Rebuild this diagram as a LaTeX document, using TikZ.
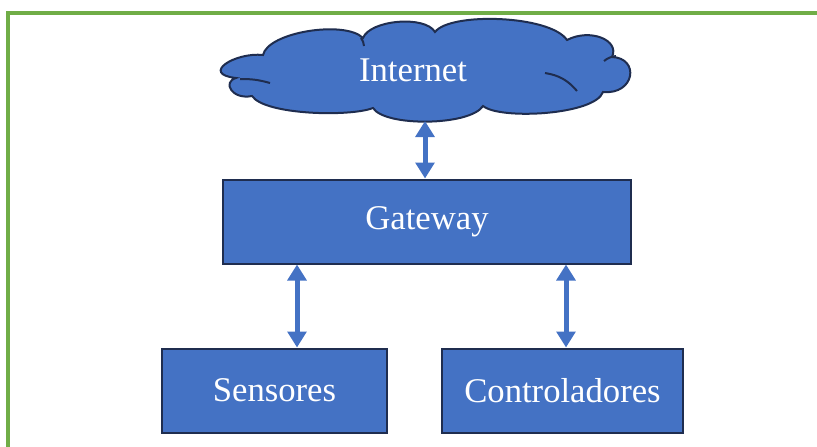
\documentclass[tikz,border=0pt]{standalone}
\usepackage{fontspec}
\setmainfont{Liberation Serif}
\usetikzlibrary{arrows.meta}
\definecolor{boxblue}{HTML}{4472C4}
\definecolor{boxedge}{HTML}{1F2D4F}
\definecolor{framegreen}{HTML}{70AD47}
\tikzset{
  blockbox/.style={draw=boxedge,fill=boxblue,line width=1.5pt,inner sep=0pt,
    text=white,font=\fontsize{26}{30}\selectfont,minimum height=63pt},
  cloudline/.style={draw=boxedge,line width=1.5pt},
  conn/.style={draw=boxblue,line width=3.75pt,
    {Triangle[width=14pt,length=12pt]}-{Triangle[width=14pt,length=12pt]}}
}
\begin{document}
\begin{tikzpicture}[x=0.75pt,y=-0.75pt]
                    \useasboundingbox (0,0) rectangle (817,446);
                    \clip (0,0) rectangle (817,446);
                    \draw[framegreen,line width=2.5pt] (8,13) rectangle (840,470);
                    % cloud outline
                    \draw[cloudline,fill=boxblue] (263,55)
                      .. controls (268,32) and (345,20) .. (363,38)
                      .. controls (370,20) and (425,15) .. (435,32)
                      .. controls (450,12) and (550,15) .. (567,40)
                      .. controls (590,28) and (620,40) .. (612,57)
                      .. controls (640,58) and (635,95) .. (603,92)
                      .. controls (595,115) and (500,120) .. (483,106)
                      .. controls (470,126) and (385,127) .. (373,108)
                      .. controls (350,117) and (265,115) .. (252,96)
                      .. controls (232,100) and (222,82) .. (236,78)
                      .. controls (200,74) and (235,52) .. cycle;
                    \draw[cloudline] (240,79) to[bend left=8] (270,83);
                    \draw[cloudline] (545,73) to[bend left=20] (577,91);
                    \draw[cloudline] (604,61) to[bend left=15] (616,56);
                    \draw[cloudline] (361,38) to[bend left=15] (364,46);
                    \node[text=white,font=\fontsize{26}{30}\selectfont] (inet) at (413,70) {Internet};
                    \node[blockbox,minimum width=306pt] (gw) at (427,221.5) {Gateway};
                    \node[blockbox,minimum width=169pt] (sens) at (274.5,390.5) {Sensores};
                    \node[blockbox,minimum width=181pt] (ctrl) at (562.5,390.5) {Controladores};
                    \coordinate (inetbot) at (425,121);
                    \coordinate (leftx) at (297,0);
                    \coordinate (rightx) at (566,0);
                    \draw[conn] (inetbot) -- (inetbot |- gw.north);
                    \draw[conn] (leftx |- gw.south) -- (leftx |- sens.north);
                    \draw[conn] (rightx |- gw.south) -- (rightx |- ctrl.north);
                \end{tikzpicture}
\end{document}
